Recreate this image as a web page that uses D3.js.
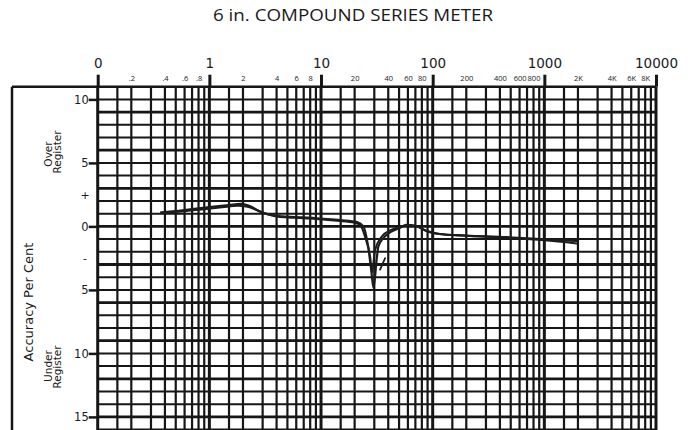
<!DOCTYPE html>
<html>
<head>
<meta charset="utf-8">
<script src="https://cdn.jsdelivr.net/npm/d3@7"></script>
<style>
  html, body { margin: 0; padding: 0; background: #fff; }
  svg { display: block; }
</style>
</head>
<body>
<svg id="chart" width="690" height="430"></svg>
<script>
// Flow rate scale (log) — decade labels and intermediate labels
const majorTicks = [0.1, 1, 10, 100, 1000, 10000];
const majorLabels = ["0", "1", "10", "100", "1000", "10000"];
const minorTicks = [0.2, 0.4, 0.6, 0.8, 2, 4, 6, 8, 20, 40, 60, 80, 200, 400, 600, 800, 2000, 4000, 6000, 8000];
const minorLabels = [".2", ".4", ".6", ".8", "2", "4", "6", "8", "20", "40", "60", "80", "200", "400", "600", "800", "2K", "4K", "6K", "8K"];
const decades = [0.1, 1, 10, 100, 1000];
const gridMultipliers = [1, 1.5, 2, 3, 4, 5, 6, 7, 8, 9];

// Accuracy scale (per cent): positive = over register, negative = under register
const yTicks = [10, 5, 0, -5, -10, -15];
const yTickLabels = ["10", "5", "0", "5", "10", "15"];
const signValues = [2.5, -2.5];
const signLabels = ["+", "-"];

// Accuracy curve, two pen traces: [flow, accuracy %]
const traceA = [
  [0.37, 1.1], [0.55, 1.25], [0.8, 1.42], [1.1, 1.55], [1.5, 1.68], [1.9, 1.78],
  [2.3, 1.6], [2.8, 1.2], [3.4, 0.95], [4.3, 0.75], [6, 0.68], [9, 0.6],
  [14, 0.45], [20, 0.3], [22.5, 0.1], [25, -0.9], [27.5, -2.4], [29.5, -4.85],
  [31.5, -2.6], [32.6, -1.6], [36.3, -0.9], [44, -0.35], [51, -0.1], [58, 0.12],
  [70, 0.05], [88, -0.35], [116, -0.6], [200, -0.72], [460, -0.85], [920, -1.0], [1950, -1.15]
];
const traceB = [
  [0.4, 1.05], [0.6, 1.2], [0.9, 1.35], [1.3, 1.5], [1.8, 1.62], [2.2, 1.55],
  [2.7, 1.25], [3.3, 0.95], [4.5, 0.8], [7, 0.72], [10, 0.62], [15, 0.5],
  [21, 0.35], [24, 0.0], [26.5, -1.6], [28.5, -3.65], [30.5, -1.85], [35, -0.8],
  [42, -0.3], [50, -0.05], [60, 0.1], [72, 0.0], [90, -0.4], [120, -0.62],
  [250, -0.78], [500, -0.92], [1000, -1.1], [1950, -1.35]
];
const traceStroke = [[33.8, -3.4], [37.5, -2.5]];

const svg = d3.select("#chart");
const plotLeft = 97.7, plotRight = 656, plotTop = 86.7, plotBottom = 430;
const frameX = 12;

const x = d3.scaleLog().domain([0.1, 10000]).range([plotLeft, plotRight]);
const y = d3.scaleLinear().domain([11, -16]).range([plotTop, plotTop + 27 * 12.7]);

// Title
svg.append("text")
  .attr("x", 353).attr("y", 21)
  .attr("text-anchor", "middle")
  .attr("font-family", "Open Sans, Noto Sans, sans-serif")
  .attr("font-size", 15.5)
  .attr("fill", "#1a1a1a")
  .attr("textLength", 280)
  .attr("lengthAdjust", "spacingAndGlyphs")
  .text("6 in. COMPOUND SERIES METER");

const grid = svg.append("g").attr("stroke", "#161616");

// Vertical grid lines
const vLines = [];
decades.forEach(d => gridMultipliers.forEach(m => vLines.push({ v: d * m, major: m === 1 })));
vLines.push({ v: 10000, major: true });
grid.selectAll("line.v").data(vLines).join("line")
  .attr("class", "v")
  .attr("x1", d => x(d.v)).attr("x2", d => x(d.v))
  .attr("y1", plotTop).attr("y2", plotBottom)
  .attr("stroke-width", d => d.major ? 3 : 2.2);

// Horizontal grid lines
const hValues = d3.range(-16, 11);
grid.selectAll("line.h").data(hValues).join("line")
  .attr("class", "h")
  .attr("x1", plotLeft).attr("x2", plotRight)
  .attr("y1", d => y(d)).attr("y2", d => y(d))
  .attr("stroke-width", d => d % 3 === 0 ? 2.8 : 2);

// Outer frame (top and left)
grid.append("line").attr("x1", frameX).attr("x2", plotRight)
  .attr("y1", plotTop).attr("y2", plotTop).attr("stroke-width", 2.5);
grid.append("line").attr("x1", frameX).attr("x2", frameX)
  .attr("y1", plotTop).attr("y2", plotBottom).attr("stroke-width", 2.5);

// Top axis: decade ticks and labels
const majorAxis = d3.axisTop(x)
  .tickValues(majorTicks)
  .tickFormat((d, i) => majorLabels[i])
  .tickSize(12).tickPadding(7);
const gMajor = svg.append("g").attr("transform", `translate(0,${plotTop})`).call(majorAxis);
gMajor.select(".domain").remove();
gMajor.selectAll(".tick line").attr("stroke", "#161616").attr("stroke-width", 3);
gMajor.selectAll(".tick text")
  .attr("font-family", "DejaVu Sans, sans-serif")
  .attr("font-size", 13.5)
  .attr("fill", "#1a1a1a");

// Top axis: intermediate labels
const minorAxis = d3.axisTop(x)
  .tickValues(minorTicks)
  .tickFormat((d, i) => minorLabels[i])
  .tickSize(0).tickPadding(5.5);
const gMinor = svg.append("g").attr("transform", `translate(0,${plotTop})`).call(minorAxis);
gMinor.select(".domain").remove();
gMinor.selectAll(".tick line").remove();
gMinor.selectAll(".tick text")
  .attr("font-family", "Open Sans, sans-serif")
  .attr("font-size", 7.5)
  .attr("fill", "#1a1a1a");

// Left axis: accuracy ticks
const yAxis = d3.axisLeft(y)
  .tickValues(yTicks)
  .tickFormat((d, i) => yTickLabels[i])
  .tickSize(9).tickPadding(0);
const gY = svg.append("g").attr("transform", `translate(${plotLeft},0)`).call(yAxis);
gY.select(".domain").remove();
gY.selectAll(".tick line").attr("stroke", "#161616").attr("stroke-width", 2.5);
gY.selectAll(".tick text")
  .attr("font-family", "DejaVu Sans, sans-serif")
  .attr("font-size", 11.5)
  .attr("fill", "#1a1a1a");

// Over / under signs
svg.selectAll("text.sign").data(signValues).join("text")
  .attr("class", "sign")
  .attr("x", 85).attr("y", d => y(d))
  .attr("dy", "0.35em")
  .attr("text-anchor", "middle")
  .attr("font-family", "DejaVu Sans, sans-serif")
  .attr("font-size", 11)
  .attr("fill", "#1a1a1a")
  .text((d, i) => signLabels[i]);

// Side labels
function rotated(text, cx, cy, size) {
  svg.append("text")
    .attr("transform", `translate(${cx},${cy}) rotate(-90)`)
    .attr("text-anchor", "middle")
    .attr("font-family", "DejaVu Sans, sans-serif")
    .attr("font-size", size)
    .attr("fill", "#1a1a1a")
    .text(text);
}
rotated("Accuracy Per Cent", 33, 302, 13);
rotated("Over", 52, 154, 10.5);
rotated("Register", 61, 152, 10.5);
rotated("Under", 52, 366, 10.5);
rotated("Register", 61, 367, 10.5);

// Accuracy traces
const line = d3.line()
  .x(d => x(d[0]))
  .y(d => y(d[1]))
  .curve(d3.curveMonotoneX);

const traces = svg.append("g")
  .attr("fill", "none")
  .attr("stroke", "#1c1c1c")
  .attr("stroke-linejoin", "round")
  .attr("stroke-linecap", "round");
traces.append("path").datum(traceA).attr("d", line).attr("stroke-width", 2.2);
traces.append("path").datum(traceB).attr("d", line).attr("stroke-width", 2);
traces.append("path").datum(traceStroke).attr("d", line).attr("stroke-width", 1.8);
</script>
</body>
</html>
